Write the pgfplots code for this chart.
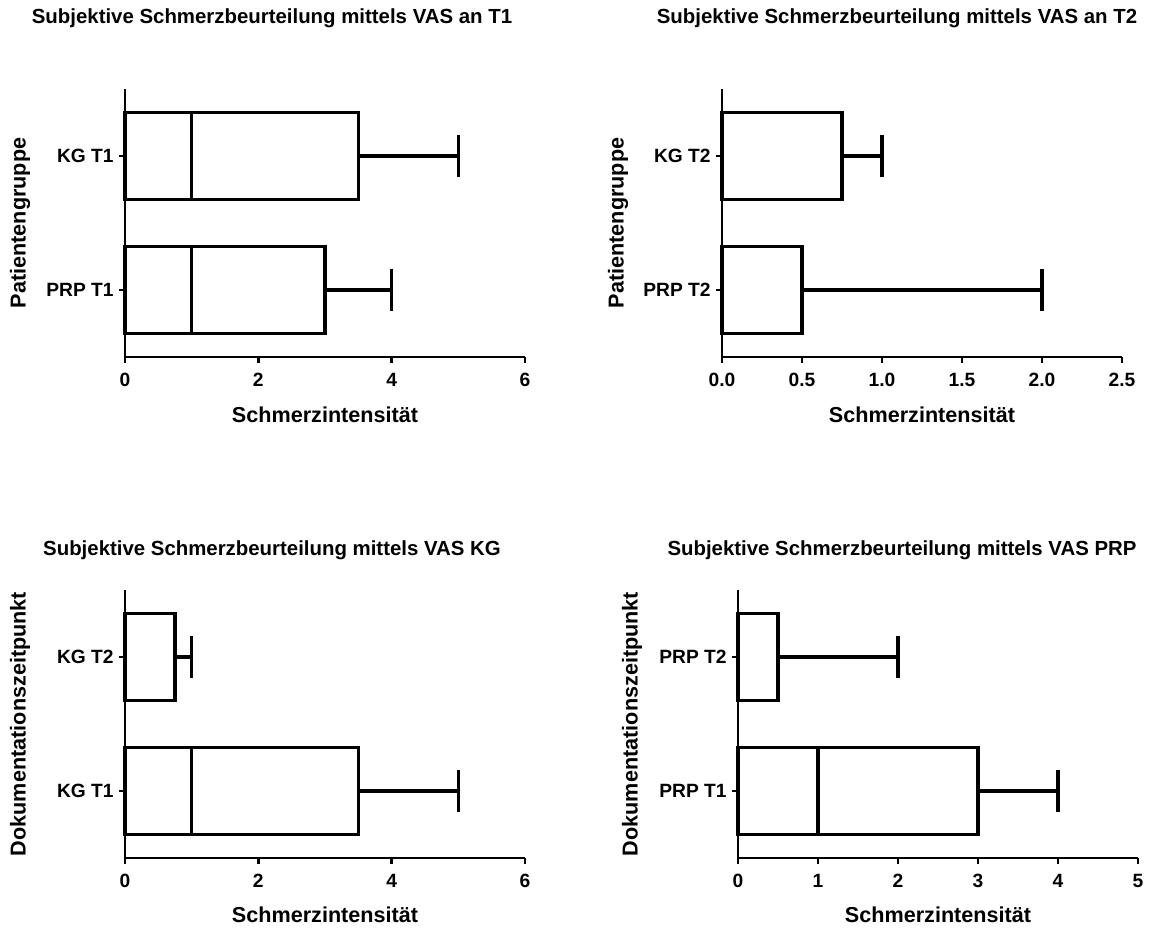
\documentclass[border=0pt]{standalone}
\usepackage{pgfplots}
\pgfplotsset{compat=1.18}
\usepgfplotslibrary{statistics}
\usepackage{fontspec}
\setmainfont{Liberation Sans}

\pgfplotsset{
 myaxis/.style={
  scale only axis, width=200pt, height=134pt,
  anchor=south west,
  axis lines=left, axis line style={-, line width=1.2pt, black},
  tick align=outside, major tick length=3pt,
  every tick/.style={black, line width=1.2pt},
  ymin=0.5, ymax=2.5, ytick={1,2},
  clip=false,
  tick label style={font=\fontsize{9.6}{11}\selectfont\bfseries},
  /pgf/number format/assume math mode=true,
  xticklabel style={inner sep=0pt, yshift=-5pt},
  yticklabel style={inner sep=2.5pt},
  boxplot/box extend=0.65, boxplot/whisker extend=0.32,
 },
 mybox/.style={black, line width=1.8pt, solid},
}

\begin{document}
\begin{tikzpicture}
\useasboundingbox (0,0) rectangle (578.5pt,463.5pt);
\tikzset{ttl/.style={font=\fontsize{10.2}{12}\selectfont\bfseries}, lbl/.style={font=\fontsize{10.8}{13}\selectfont\bfseries}}

% Panel 1
\begin{axis}[myaxis, at={(62.5pt,285pt)}, xmin=0, xmax=6, xtick={0,2,4,6},
  yticklabels={PRP T1, KG T1}]
\addplot[mybox, boxplot prepared={lower whisker=0, lower quartile=0, median=1, upper quartile=3.5, upper whisker=5, draw position=2}] coordinates {};
\addplot[mybox, boxplot prepared={lower whisker=0, lower quartile=0, median=1, upper quartile=3, upper whisker=4, draw position=1}] coordinates {};
\end{axis}

% Panel 2
\begin{axis}[myaxis, at={(361pt,285pt)}, xmin=0, xmax=2.5, xtick={0,0.5,1,1.5,2,2.5},
  xticklabel style={/pgf/number format/.cd, fixed, fixed zerofill, precision=1},
  yticklabels={PRP T2, KG T2}]
\addplot[mybox, boxplot prepared={lower whisker=0, lower quartile=0, median=0, upper quartile=0.75, upper whisker=1, draw position=2}] coordinates {};
\addplot[mybox, boxplot prepared={lower whisker=0, lower quartile=0, median=0, upper quartile=0.5, upper whisker=2, draw position=1}] coordinates {};
\end{axis}

% Panel 3
\begin{axis}[myaxis, at={(62.5pt,34.5pt)}, xmin=0, xmax=6, xtick={0,2,4,6},
  yticklabels={KG T1, KG T2}]
\addplot[mybox, boxplot prepared={lower whisker=0, lower quartile=0, median=0, upper quartile=0.75, upper whisker=1, draw position=2}] coordinates {};
\addplot[mybox, boxplot prepared={lower whisker=0, lower quartile=0, median=1, upper quartile=3.5, upper whisker=5, draw position=1}] coordinates {};
\end{axis}

% Panel 4
\begin{axis}[myaxis, at={(369pt,34.5pt)}, xmin=0, xmax=5, xtick={0,1,2,3,4,5},
  yticklabels={PRP T1, PRP T2}]
\addplot[mybox, boxplot prepared={lower whisker=0, lower quartile=0, median=0, upper quartile=0.5, upper whisker=2, draw position=2}] coordinates {};
\addplot[mybox, boxplot prepared={lower whisker=0, lower quartile=0, median=1, upper quartile=3, upper whisker=4, draw position=1}] coordinates {};
\end{axis}

% Titles
\node[ttl] at (136pt,454.5pt) {Subjektive Schmerzbeurteilung mittels VAS an T1};
\node[ttl] at (448.5pt,454.5pt) {Subjektive Schmerzbeurteilung mittels VAS an T2};
\node[ttl] at (136pt,188.5pt) {Subjektive Schmerzbeurteilung mittels VAS KG};
\node[ttl] at (451pt,188.5pt) {Subjektive Schmerzbeurteilung mittels VAS PRP};
% x labels
\node[lbl] at (162.5pt,256pt) {Schmerzintensität};
\node[lbl] at (461pt,256pt) {Schmerzintensität};
\node[lbl] at (162.5pt,6pt) {Schmerzintensität};
\node[lbl] at (469pt,6pt) {Schmerzintensität};
% y labels
\node[lbl, rotate=90] at (10pt,352pt) {Patientengruppe};
\node[lbl, rotate=90] at (309pt,352pt) {Patientengruppe};
\node[lbl, rotate=90] at (10pt,101.5pt) {Dokumentationszeitpunkt};
\node[lbl, rotate=90] at (316pt,101.5pt) {Dokumentationszeitpunkt};
\end{tikzpicture}
\end{document}
